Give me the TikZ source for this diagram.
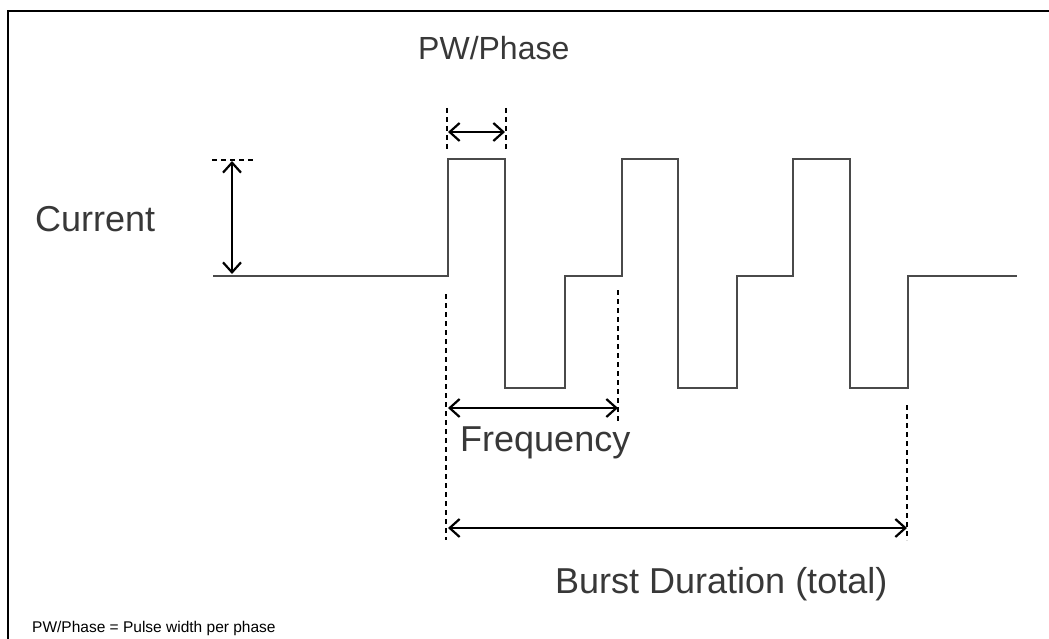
\documentclass[tikz,border=0pt]{standalone}
\usepackage{fontspec}
\setmainfont{Liberation Sans}
\usetikzlibrary{arrows.meta}
\definecolor{wave}{HTML}{4A4A4A}
\definecolor{lbl}{HTML}{383838}
\begin{document}
\begin{tikzpicture}[x=1pt,y=-1pt,
  wavestyle/.style={draw=wave,line width=2.6pt,line join=miter},
  dim/.style={draw=black,line width=2.2pt,{Straight Barb[length=10pt,width=18pt,line width=2.2pt]}-{Straight Barb[length=10pt,width=18pt,line width=2.2pt]}},
  guide/.style={draw=black,line width=2pt,dash pattern=on 5pt off 4pt},
  biglabel/.style={text=lbl,font=\fontsize{36}{40}\selectfont,inner sep=0pt,anchor=base west},
  note/.style={text=black,font=\fontsize{15.5}{17}\selectfont,inner sep=0pt,anchor=base west}]
\useasboundingbox (0,0) rectangle (1049,639);
\fill[white] (0,0) rectangle (1049,639);
% frame
\draw[line width=2.2pt] (8,639) -- (8,11) -- (1049,11);
% waveform
\draw[wavestyle] (213,276) -- (448,276) -- (448,159) -- (505,159) -- (505,388) -- (565,388)
  -- (565,276) -- (622,276) -- (622,159) -- (678,159) -- (678,388) -- (737,388)
  -- (737,276) -- (793,276) -- (793,159) -- (850,159) -- (850,388) -- (908,388)
  -- (908,276) -- (1017,276);
% coordinates
\coordinate (curT) at (232,161);
\coordinate (curB) at (232,274);
\coordinate (pwL) at (448,132);
\coordinate (pwR) at (505,132);
\coordinate (frL) at (448,408);
\coordinate (frR) at (618,408);
\coordinate (buL) at (448,528);
\coordinate (buR) at (907,528);
% guides
\draw[guide] (212,160) -- (256,160);
\draw[guide] (447,108) -- (447,152);
\draw[guide] (506,108) -- (506,152);
\draw[guide] (446,294) -- (446,540);
\draw[guide] (618,290) -- (618,422);
\draw[guide] (907,405) -- (907,540);
% dimension arrows
\draw[dim] (curT) -- (curB);
\draw[dim] (pwL) -- (pwR);
\draw[dim] (frL) -- (frR);
\draw[dim] (buL) -- (buR);
% labels
\node[biglabel,font=\fontsize{32}{36}\selectfont] (pw) at (418,60) {PW/Phase};
\node[biglabel] (cur) at (35,232) {Current};
\node[biglabel] (fr) at (460,451) {Frequency};
\node[biglabel] (bu) at (555,593) {Burst Duration (total)};
\node[note] (nt) at (32,632) {PW/Phase = Pulse width per phase};
\end{tikzpicture}
\end{document}
